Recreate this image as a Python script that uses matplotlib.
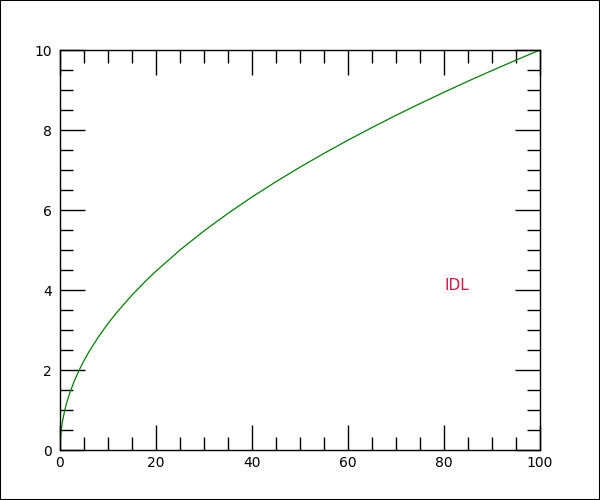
import matplotlib
matplotlib.use("Agg")
import matplotlib.pyplot as plt
from matplotlib.ticker import MultipleLocator
from matplotlib.patches import Rectangle

x_vals = [0, 0.1, 0.25, 0.5, 1, 1.5, 2, 3, 4, 5, 6, 8, 10, 12, 15, 18, 20, 25, 30, 35,
          40, 45, 50, 55, 60, 65, 70, 75, 80, 85, 90, 95, 100]
y_vals = [0, 0.316, 0.5, 0.707, 1.0, 1.225, 1.414, 1.732, 2.0, 2.236, 2.449, 2.828,
          3.162, 3.464, 3.873, 4.243, 4.472, 5.0, 5.477, 5.916, 6.325, 6.708, 7.071,
          7.416, 7.746, 8.062, 8.367, 8.660, 8.944, 9.220, 9.487, 9.747, 10.0]
x_ticks = [0, 20, 40, 60, 80, 100]
y_ticks = [0, 2, 4, 6, 8, 10]
label_text = "IDL"

fig = plt.figure(figsize=(6, 5), dpi=100)
ax = fig.add_axes([0.1, 0.1, 0.8, 0.8])
ax.plot(x_vals, y_vals, color="green", linewidth=0.9)
ax.set_xlim(0, 100)
ax.set_ylim(0, 10)
ax.set_xticks(x_ticks)
ax.set_yticks(y_ticks)
ax.xaxis.set_minor_locator(MultipleLocator(5))
ax.yaxis.set_minor_locator(MultipleLocator(0.5))
ax.tick_params(which="both", direction="in", top=True, right=True, colors="black",
               width=1, labelsize=10, labelcolor="black")
ax.tick_params(which="major", length=18, pad=4)
ax.tick_params(which="minor", length=9.5)
ax.tick_params(axis="y", which="major", pad=6)
for s in ax.spines.values():
    s.set_linewidth(1)
ax.text(80, 4.125, label_text, color="#dc143c", fontsize=11, va="center", ha="left")
fig.patches.append(Rectangle((0, 0), 1, 1, transform=fig.transFigure, fill=False,
                             edgecolor="black", linewidth=1.5))
fig.savefig("out.png", dpi=100)
